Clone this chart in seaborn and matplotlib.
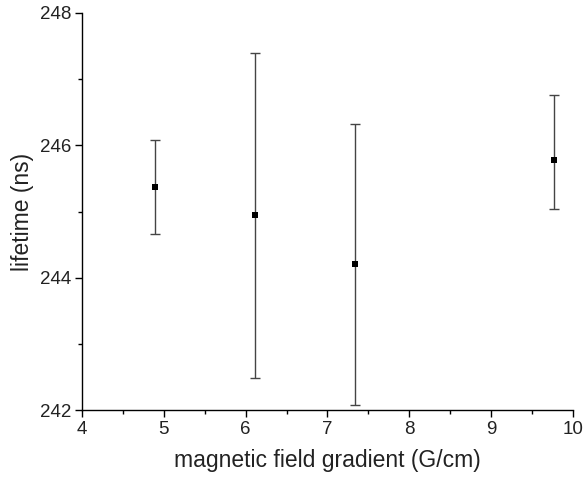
import numpy as np
import pandas as pd
import matplotlib
matplotlib.use("Agg")
import matplotlib.pyplot as plt
import seaborn as sns
from matplotlib.ticker import MultipleLocator

# data
gradient = [4.89, 6.11, 7.34, 9.77]
lifetime = [245.37, 244.94, 244.21, 245.78]
err_low = [0.71, 2.46, 2.13, 0.74]
err_high = [0.71, 2.46, 2.11, 0.98]

df = pd.DataFrame({'gradient': gradient, 'lifetime': lifetime})

sns.set_style('ticks')
plt.rcParams['font.family'] = ['Liberation Sans', 'DejaVu Sans']

fig = plt.figure(figsize=(5.83, 4.78), dpi=100)
ax = fig.add_axes([0.1407, 0.142, 0.842, 0.831])

ax.errorbar(df['gradient'], df['lifetime'], yerr=[err_low, err_high],
            fmt='none', ecolor='#444444', elinewidth=1.0, capsize=3.6, capthick=1.0)
sns.scatterplot(x='gradient', y='lifetime', data=df, ax=ax, marker='s', s=15,
                color='black', edgecolor='black', linewidth=0, zorder=3)

ax.set_xlim(4, 10)
ax.set_ylim(242, 248)
ax.xaxis.set_major_locator(MultipleLocator(1))
ax.xaxis.set_minor_locator(MultipleLocator(0.5))
ax.yaxis.set_major_locator(MultipleLocator(2))
ax.yaxis.set_minor_locator(MultipleLocator(1))
ax.tick_params(which='major', direction='out', length=5, width=1, labelsize=13.5,
               colors='black', labelcolor='#222222', pad=3)
ax.tick_params(which='minor', direction='out', length=3, width=1, colors='black')
for s in ['left', 'bottom']:
    ax.spines[s].set_color('black')
    ax.spines[s].set_linewidth(1)
sns.despine(ax=ax)

ax.set_xlabel('magnetic field gradient (G/cm)', fontsize=16.5, color='#222222', labelpad=8)
ax.set_ylabel('lifetime (ns)', fontsize=16.5, color='#222222', labelpad=4)

plt.savefig('out.png', dpi=100)
plt.close()
